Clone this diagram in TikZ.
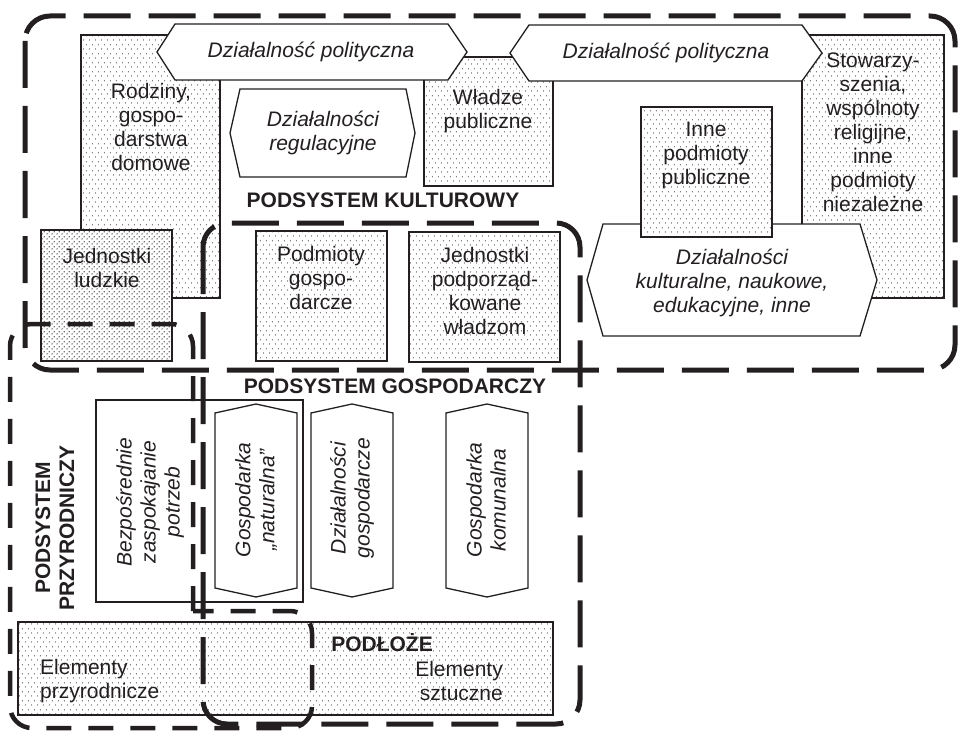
\documentclass[tikz,border=0pt]{standalone}
\usepackage{fontspec}
\setmainfont{Liberation Sans}
\usetikzlibrary{patterns.meta}
\definecolor{dotcolor}{RGB}{60, 60, 60}
\definecolor{densecolor}{RGB}{60, 60, 60}
\definecolor{linecolor}{RGB}{35, 31, 32}
\tikzdeclarepattern{
  name=lightdots,
  type=uncolored,
  bounding box={(0pt,0pt) and (6.4pt,8.6pt)},
  tile size={(6.4pt,8.6pt)},
  code={
    \pgfpathcircle{\pgfpoint{1.6pt}{2.15pt}}{0.62pt}
    \pgfpathcircle{\pgfpoint{4.8pt}{6.45pt}}{0.62pt}
    \pgfusepath{fill}
  }
}
\tikzdeclarepattern{
  name=densedots,
  type=uncolored,
  bounding box={(0pt,0pt) and (4.6pt,4.6pt)},
  tile size={(4.6pt,4.6pt)},
  code={
    \pgfpathcircle{\pgfpoint{1.15pt}{1.15pt}}{0.8pt}
    \pgfpathcircle{\pgfpoint{3.45pt}{3.45pt}}{0.8pt}
    \pgfusepath{fill}
  }
}
\tikzset{
  dotbox/.style={
    draw=linecolor, line width=1.3pt,
    preaction={fill=white},
    pattern=lightdots, pattern color=dotcolor
  },
  densebox/.style={
    dotbox,
    pattern=densedots, pattern color=densecolor
  },
  hexbox/.style={
    draw=linecolor, line width=1.3pt, fill=white
  },
  plainbox/.style={
    draw=linecolor, line width=1.3pt, fill=white
  },
  txt/.style={
    font=\fontsize{21}{24}\selectfont,
    text=linecolor, align=center, inner sep=0pt
  },
  itxt/.style={
    txt, font=\fontsize{21}{24}\selectfont\itshape
  },
  btxt/.style={
    txt, font=\fontsize{21}{24}\selectfont\bfseries
  },
  bigdash/.style={
    draw=linecolor, line width=5pt, dash pattern=on 47pt off 18pt
  },
  smalldash/.style={
    draw=linecolor, line width=4.5pt, dash pattern=on 25pt off 17pt
  }
}

\begin{document}
\begin{tikzpicture}[x=1pt, y=-1pt]

  \useasboundingbox (0,0) rectangle (959,733);

  % ── Dotted boxes (kulturowy) ───────────────────────────────
  \draw[dotbox]   (81,35)   rectangle (220,298);   % rodziny
  \draw[dotbox]   (424,57)  rectangle (553,186);   % wladze
  \draw[dotbox]   (802,35)  rectangle (944,298);   % stowarzyszenia
  \draw[densebox] (41,230)  rectangle (172,361);   % jednostki ludzkie

  % ── Activities (kulturowy) ─────────────────────────────────
  \draw[hexbox] (157,52) -- (175,24) -- (448,24) -- (467,52) -- (448,80) -- (175,80) -- cycle;
  \draw[hexbox] (510,53) -- (529,25) -- (802,25) -- (822,53) -- (802,81) -- (529,81) -- cycle;
  \draw[hexbox] (230,133) -- (240,89) -- (406,89) -- (415,133) -- (406,177) -- (240,177) -- cycle;
  \draw[hexbox] (587,280) -- (603,224) -- (860,224) -- (877,280) -- (860,336) -- (603,336) -- cycle;
  \draw[dotbox] (641,107) rectangle (772,237);     % inne podmioty

  % ── Units (gospodarczy) ────────────────────────────────────
  \draw[dotbox] (256,231) rectangle (387,361);     % podmioty
  \draw[dotbox] (409,232) rectangle (560,362);     % podporzadkowane
  \draw[dotbox] (18,622)  rectangle (553,715);     % podloze

  % ── Needs and economies ────────────────────────────────────
  \draw[plainbox] (96,400) rectangle (303,602);
  \draw[hexbox] (256,404) -- (297,413) -- (297,588) -- (256,597) -- (215,588) -- (215,413) -- cycle;
  \draw[hexbox] (352,404) -- (393,413) -- (393,588) -- (352,597) -- (311,588) -- (311,413) -- cycle;
  \draw[hexbox] (487,404) -- (528,413) -- (528,588) -- (487,597) -- (446,588) -- (446,413) -- cycle;

  % ── Subsystem borders ──────────────────────────────────────
  \draw[bigdash, rounded corners=25pt] (25,16) rectangle (955,370);
  \draw[bigdash, rounded corners=24pt] (203,223) rectangle (580,724);
  \draw[smalldash, rounded corners=22pt]
    (193,611) -- (193,324) -- (10,324) -- (10,728) -- (312,728) -- (312,611) -- (193,611);

  % ── Labels ─────────────────────────────────────────────────
  \node[txt]  (rodziny)  at (151,127) {Rodziny,\\gospo-\\darstwa\\domowe};
  \node[txt]  (ludzkie)  at (107,268) {Jednostki\\ludzkie};
  \node[itxt] (polit1)   at (311,52)  {Działalność polityczna};
  \node[itxt] (polit2)   at (666,53)  {Działalność polityczna};
  \node[itxt] (regul)    at (323,133) {Działalności\\regulacyjne};
  \node[txt]  (wladze)   at (488,111) {Władze\\publiczne};
  \node[txt]  (inne)     at (706,155) {Inne\\podmioty\\publiczne};
  \node[txt]  (stowarz)  at (873,132) {Stowarzy-\\szenia,\\wspólnoty\\religijne,\\inne\\podmioty\\niezależne};
  \node[itxt] (kultur)   at (732,283) {Działalności\\kulturalne, naukowe,\\edukacyjne, inne};
  \node[btxt] (kulturowy) at (383,200) {PODSYSTEM KULTUROWY};
  \node[txt]  (podmioty) at (321,278) {Podmioty\\gospo-\\darcze};
  \node[txt]  (podporz)  at (485,291) {Jednostki\\podporząd-\\kowane\\władzom};
  \node[btxt] (gospodarczy) at (395,386) {PODSYSTEM GOSPODARCZY};

  \node[itxt, rotate=90] (potrzeby)  at (150,502) {Bezpośrednie\\zaspokajanie\\potrzeb};
  \node[itxt, rotate=90] (naturalna) at (256,500) {Gospodarka\\„naturalna”};
  \node[itxt, rotate=90] (dzialgosp) at (352,498) {Działalności\\gospodarcze};
  \node[itxt, rotate=90] (komunalna) at (486,500) {Gospodarka\\komunalna};
  \node[btxt, rotate=90] (przyrodniczy) at (55,528) {PODSYSTEM\\PRZYRODNICZY};

  \node[btxt] (podloze) at (382,643) {PODŁOŻE};
  \node[txt, align=left, anchor=west]  (przyrodnicze) at (40,681)  {Elementy\\przyrodnicze};
  \node[txt, align=right, anchor=east] (sztuczne)     at (503,681) {Elementy\\sztuczne};

\end{tikzpicture}
\end{document}
